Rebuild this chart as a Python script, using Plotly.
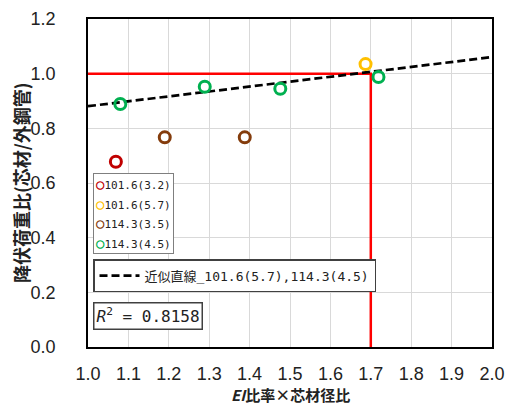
import numpy as np
import plotly.graph_objects as go

# ---- data ----
series_names = ["101.6(3.2)", "101.6(5.7)", "114.3(3.5)", "114.3(4.5)"]
series_colors = ["#c00000", "#ffc000", "#843c0c", "#00b050"]
x_3_2 = [1.069]
y_3_2 = [0.678]
x_5_7 = [1.687]
y_5_7 = [1.035]
x_3_5 = [1.190, 1.388]
y_3_5 = [0.767, 0.767]
x_4_5 = [1.080, 1.289, 1.476, 1.719]
y_4_5 = [0.889, 0.952, 0.945, 0.988]
trend_name = "近似直線_101.6(5.7),114.3(4.5)"
r2_text = "0.8158"
ref_x = [1.0, 1.7, 1.7]
ref_y = [1.0, 1.0, 0.0]
x_ticks = [1.0, 1.1, 1.2, 1.3, 1.4, 1.5, 1.6, 1.7, 1.8, 1.9, 2.0]
y_ticks = [0.0, 0.2, 0.4, 0.6, 0.8, 1.0, 1.2]

xs = [x_3_2, x_5_7, x_3_5, x_4_5]
ys = [y_3_2, y_5_7, y_3_5, y_4_5]

# linear fit over 101.6(5.7) and 114.3(4.5)
fx = np.array(x_5_7 + x_4_5)
fy = np.array(y_5_7 + y_4_5)
slope, intercept = np.polyfit(fx, fy, 1)
trend_x = [1.0, 2.0]
trend_y = [intercept + slope * v for v in trend_x]

fig = go.Figure()

# red reference lines
fig.add_trace(go.Scatter(x=ref_x, y=ref_y, mode="lines",
                         line=dict(color="#ff0000", width=2.5),
                         showlegend=False, hoverinfo="skip"))
# trendline
fig.add_trace(go.Scatter(x=trend_x, y=trend_y, mode="lines",
                         line=dict(color="black", width=2.7, dash="8px,4px"),
                         name=trend_name, legend="legend2"))

# data points
for nm, col, xv, yv in zip(series_names, series_colors, xs, ys):
    fig.add_trace(go.Scatter(x=xv, y=yv, mode="markers", name=nm,
                             marker=dict(symbol="circle-open", size=11,
                                         color=col, line=dict(width=3, color=col)),
                             showlegend=False))

mono = "DejaVu Sans Mono, Noto Sans CJK JP"
cjk = "Noto Sans CJK JP"
tick_font = dict(family="Liberation Sans, Arial", size=18, color="#222")

# compact legend box for the point series
legend_lines = [f"<span style='color:{c};font-weight:bold;font-size:14px'>○</span>"
                f"<span style='font-size:11px'>{n}</span>"
                for n, c in zip(series_names, series_colors)]
legend_text = "<br>".join(legend_lines)

fig.update_layout(
    width=506, height=405,
    margin=dict(l=88, r=14, t=19, b=58),
    paper_bgcolor="white", plot_bgcolor="white",
    font=dict(family=cjk, color="#222"),
    xaxis=dict(range=[1.0, 2.0], tickvals=x_ticks,
               ticktext=[f"{v:.1f}" for v in x_ticks], automargin=False,
               showgrid=True, gridcolor="#d9d9d9", gridwidth=1,
               zeroline=False, showline=True, linecolor="black", linewidth=1.5,
               mirror=True, ticks="", tickfont=tick_font, ticklabelstandoff=10),
    yaxis=dict(range=[0.0, 1.2], tickvals=y_ticks,
               ticktext=[f"{v:.1f}" for v in y_ticks], automargin=False,
               showgrid=True, gridcolor="#d9d9d9", gridwidth=1,
               zeroline=False, showline=True, linecolor="black", linewidth=1.5,
               mirror=True, ticks="", tickfont=tick_font, ticklabelstandoff=27),
    legend2=dict(x=0.0124, y=0.268, xanchor="left", yanchor="top",
                 bgcolor="white", bordercolor="#404040", borderwidth=1.5,
                 font=dict(family=mono, size=13, color="#222"),
                 itemwidth=40),
    annotations=[
        dict(xref="paper", yref="paper", x=0, y=0.5, xshift=-67,
             xanchor="center", yanchor="middle", showarrow=False, textangle=-90,
             text="<b>降伏荷重比(芯材/外鋼管)</b>",
             font=dict(family=cjk, size=18, color="#222")),
        dict(xref="paper", yref="paper", x=0.5, y=0, yshift=-47,
             xanchor="center", yanchor="middle", showarrow=False,
             text="<b><i>EI</i>比率×芯材径比</b>",
             font=dict(family=cjk, size=15, color="#222")),
        dict(xref="paper", yref="paper", x=0.0124, y=0.530,
             xanchor="left", yanchor="top", showarrow=False, align="left",
             text=legend_text,
             font=dict(family=mono, size=15, color="#222"),
             bordercolor="#7f7f7f", borderwidth=1, borderpad=2,
             bgcolor="white"),
        dict(xref="paper", yref="paper", x=0.0124, y=0.137,
             xanchor="left", yanchor="top", showarrow=False,
             text="<i>R</i><sup>2</sup> = " + r2_text,
             font=dict(family=mono, size=16, color="#222"),
             bordercolor="#404040", borderwidth=1.5, borderpad=2,
             bgcolor="white"),
    ],
)

fig.write_html("out.html",
               config={"displayModeBar": False},
               post_script="document.body.style.margin='0';"
                           "document.body.style.overflow='hidden';")
